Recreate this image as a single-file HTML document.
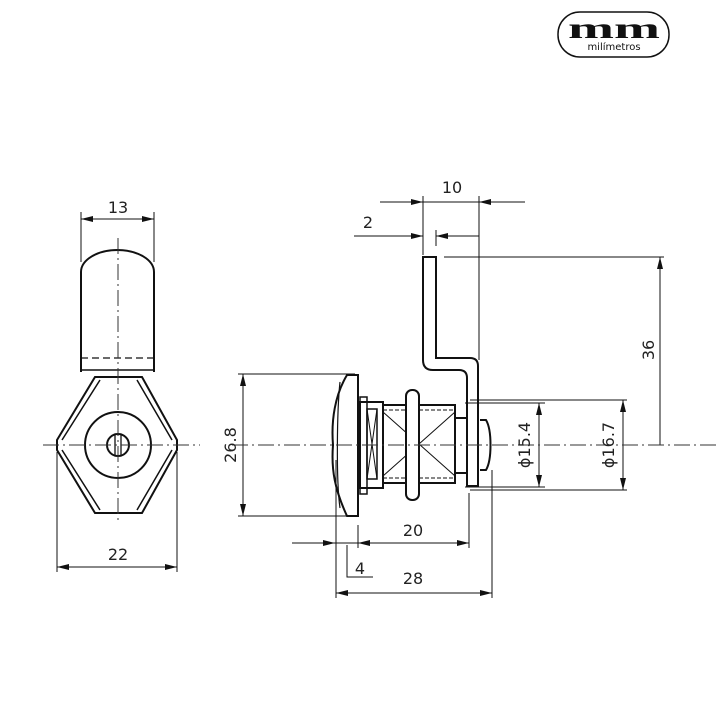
<!DOCTYPE html>
<html><head><meta charset="utf-8"><style>
html,body{margin:0;padding:0;background:#fff;}
svg{display:block;}
text{font-family:"DejaVu Sans","Liberation Sans",sans-serif;fill:#222;}
</style></head><body>
<svg width="720" height="720" viewBox="0 0 720 720" xmlns="http://www.w3.org/2000/svg">
<defs>
<marker id="a" viewBox="0 0 12 6" refX="12" refY="3" markerWidth="12" markerHeight="6" orient="auto-start-reverse" markerUnits="userSpaceOnUse"><path d="M0,0 L12,3 L0,6 z" fill="#111"/></marker>
</defs>
<!-- logo -->
<rect x="558" y="12" width="111" height="45" rx="22" fill="#fff" stroke="#111" stroke-width="1.5"/>
<text x="614" y="38" text-anchor="middle" style="font-family:'Liberation Serif',serif;font-weight:bold;font-size:30px;fill:#111" textLength="92" lengthAdjust="spacingAndGlyphs">mm</text>
<text x="614" y="50" text-anchor="middle" style="font-size:10px;fill:#111">milímetros</text>

<g fill="none" stroke="#111" stroke-width="2">
<!-- LEFT VIEW -->
<path d="M81,372 V272 A36.5,22 0 0 1 154,272 V372"/>
<line x1="81" y1="370" x2="154" y2="370" stroke-width="1.5"/>
<path d="M95,377 H142 L177,440 V450 L142,513 H95 L57,450 V440 Z"/>
<path d="M100,380 L62,440 M137,380 L172,440 M100,510 L62,450 M137,510 L172,450" stroke-width="1.5"/>
<circle cx="118" cy="445" r="33"/>
<circle cx="118" cy="445" r="11"/>
<rect x="115" y="434" width="6" height="22" stroke-width="1.3"/>
</g>
<line x1="81" y1="358" x2="154" y2="358" stroke="#111" stroke-width="1.2" stroke-dasharray="7,4"/>

<!-- RIGHT VIEW -->
<g fill="none" stroke="#111" stroke-width="2">
<path d="M347,375 H358 V516 H347 C335,490 331,470 333,445 C331,420 335,395 347,375 Z"/>
<path d="M340,382 C337,410 336,480 340,508" stroke-width="1.2"/>
<rect x="360" y="397" width="7" height="97" stroke-width="1.5"/>
<rect x="360" y="402" width="23" height="86"/>
<rect x="367" y="409" width="10" height="70" stroke-width="1.5"/>
<path d="M367,409 L377,479 M377,409 L367,479" stroke-width="1"/>
<rect x="383" y="405" width="72" height="78"/>
<path d="M383,412 L455,476 M455,412 L383,476" stroke-width="1"/>
<line x1="383" y1="410" x2="455" y2="410" stroke-width="1" stroke-dasharray="4,2"/>
<line x1="383" y1="478" x2="455" y2="478" stroke-width="1" stroke-dasharray="4,2"/>
<rect x="406" y="390" width="13" height="110" rx="6" fill="#fff"/>
<rect x="455" y="418" width="12" height="55"/>
<path d="M480,420 H486 C492,430 492,460 486,470 H480"/>
<path d="M423,257 H436 V358 H470 Q478,358 478,366 V486 H467 V378 Q467,370 459,370 H433 Q423,370 423,360 Z" fill="#fff"/>
</g>

<!-- thin lines -->
<g stroke="#111" stroke-width="1" fill="none">
<line x1="81" y1="212" x2="81" y2="262"/><line x1="154" y1="212" x2="154" y2="262"/>
<line x1="81" y1="219" x2="154" y2="219" marker-start="url(#a)" marker-end="url(#a)"/>
<line x1="57" y1="452" x2="57" y2="572"/><line x1="177" y1="452" x2="177" y2="572"/>
<line x1="57" y1="567" x2="177" y2="567" marker-start="url(#a)" marker-end="url(#a)"/>

<line x1="238" y1="374" x2="355" y2="374"/><line x1="238" y1="516" x2="355" y2="516"/>
<line x1="243" y1="374" x2="243" y2="516" marker-start="url(#a)" marker-end="url(#a)"/>

<line x1="423" y1="196" x2="423" y2="255"/><line x1="479" y1="196" x2="479" y2="360"/>
<line x1="436" y1="230" x2="436" y2="246"/>
<line x1="380" y1="202" x2="423" y2="202" marker-end="url(#a)"/>
<line x1="525" y1="202" x2="479" y2="202" marker-end="url(#a)"/>
<line x1="423" y1="202" x2="479" y2="202"/>
<line x1="354" y1="236" x2="423" y2="236" marker-end="url(#a)"/>
<line x1="479" y1="236" x2="436" y2="236" marker-end="url(#a)"/>

<line x1="444" y1="257" x2="664" y2="257"/>
<line x1="660" y1="445" x2="660" y2="257" marker-end="url(#a)"/>

<line x1="465" y1="403" x2="545" y2="403"/><line x1="465" y1="487" x2="545" y2="487"/>
<line x1="539" y1="403" x2="539" y2="487" marker-start="url(#a)" marker-end="url(#a)"/>
<line x1="470" y1="400" x2="627" y2="400"/><line x1="470" y1="490" x2="627" y2="490"/>
<line x1="623" y1="400" x2="623" y2="490" marker-start="url(#a)" marker-end="url(#a)"/>

<line x1="469" y1="493" x2="469" y2="548"/>
<line x1="358" y1="525" x2="358" y2="548"/>
<line x1="292" y1="543" x2="335" y2="543" marker-end="url(#a)"/>
<line x1="335" y1="543" x2="358" y2="543"/>
<line x1="358" y1="543" x2="469" y2="543" marker-start="url(#a)" marker-end="url(#a)"/>
<path d="M347,545 V577 H373"/>
<line x1="336" y1="460" x2="336" y2="598"/><line x1="492" y1="470" x2="492" y2="598"/>
<line x1="336" y1="593" x2="492" y2="593" marker-start="url(#a)" marker-end="url(#a)"/>
</g>

<!-- center lines -->
<g stroke="#333" stroke-width="1" stroke-dasharray="16,4,2,4" fill="none">
<line x1="43" y1="445" x2="200" y2="445"/>
<line x1="118" y1="238" x2="118" y2="522"/>
<line x1="232" y1="445" x2="720" y2="445"/>
</g>

<!-- labels -->
<g style="font-size:16px">
<text x="118" y="213" text-anchor="middle">13</text>
<text x="118" y="560" text-anchor="middle">22</text>
<text x="452" y="193" text-anchor="middle">10</text>
<text x="368" y="228" text-anchor="middle">2</text>
<text x="413" y="536" text-anchor="middle">20</text>
<text x="360" y="574" text-anchor="middle">4</text>
<text x="413" y="584" text-anchor="middle">28</text>
<text transform="translate(236,445) rotate(-90)" text-anchor="middle">26.8</text>
<text transform="translate(654,350) rotate(-90)" text-anchor="middle">36</text>
<text transform="translate(530,445) rotate(-90)" text-anchor="middle">ϕ15.4</text>
<text transform="translate(614,445) rotate(-90)" text-anchor="middle">ϕ16.7</text>
</g>
</svg>
</body></html>
